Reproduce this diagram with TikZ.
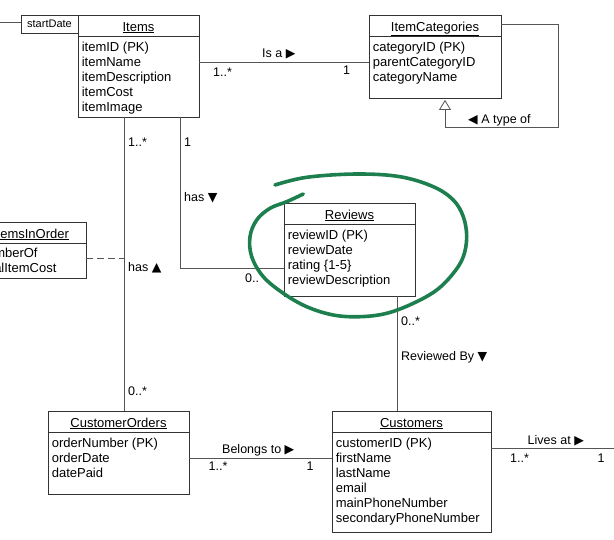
\documentclass[tikz,border=0pt]{standalone}
\usepackage{fontspec}
\setmainfont{Liberation Sans}
\newfontfamily\symf{DejaVu Sans}
\usetikzlibrary{arrows.meta,calc}
\definecolor{ln}{HTML}{555555}
\definecolor{bx}{HTML}{333333}
\definecolor{pen}{HTML}{1E7F4E}
\tikzset{
  cls/.style={draw=bx,line width=0.8pt,fill=white,inner sep=0pt},
  ctitle/.style={font=\fontsize{13}{15}\selectfont,inner sep=0pt,anchor=base},
  attrs/.style={font=\fontsize{13}{15}\selectfont,inner sep=0pt,anchor=north west,align=left,execute at begin node=\strut},
  link/.style={draw=ln,line width=0.8pt},
  lbl/.style={font=\fontsize{12.5}{15}\selectfont,inner sep=0pt,anchor=base west},
}
\begin{document}
\begin{tikzpicture}[x=1pt,y=-1pt]
  \clip (0,0) rectangle (614,539);

  % classes
  \node[cls,minimum width=121pt,minimum height=102pt] (items) at (138.5,66) {};
  \node[cls,minimum width=132pt,minimum height=83pt] (cats) at (435,56.5) {};
  \node[cls,minimum width=131pt,minimum height=93pt] (reviews) at (349.5,249.5) {};
  \node[cls,minimum width=141pt,minimum height=83pt] (orders) at (118.5,452.5) {};
  \node[cls,minimum width=159pt,minimum height=121pt] (customers) at (411.5,471.5) {};
  \node[cls,minimum width=110pt,minimum height=56pt] (inorder) at (31,250) {};
  \node[cls,minimum width=57pt,minimum height=18pt,font=\fontsize{11}{13}\selectfont] (sdate) at (49.5,24) {startDate};
  \foreach \c in {items,cats,reviews,orders,customers,inorder}
    \draw[bx,line width=0.8pt] ([yshift=-21.5pt]\c.north west) -- ([yshift=-21.5pt]\c.north east);

  \node[ctitle] (items-t) at ([yshift=-16.5pt]items.north) {\underline{Items}};
  \node[attrs] (items-a) at ([shift={(4pt,-27pt)}]items.north west) {itemID (PK)\\itemName\\itemDescription\\itemCost\\itemImage};
  \node[ctitle] (cats-t) at ([yshift=-16.5pt]cats.north) {\underline{ItemCategories}};
  \node[attrs] (cats-a) at ([shift={(4pt,-27pt)}]cats.north west) {categoryID (PK)\\parentCategoryID\\categoryName};
  \node[ctitle] (reviews-t) at ([yshift=-16.5pt]reviews.north) {\underline{Reviews}};
  \node[attrs] (reviews-a) at ([shift={(4pt,-27pt)}]reviews.north west) {reviewID (PK)\\reviewDate\\rating \{1-5\}\\reviewDescription};
  \node[ctitle] (orders-t) at ([yshift=-16.5pt]orders.north) {\underline{CustomerOrders}};
  \node[attrs] (orders-a) at ([shift={(4pt,-27pt)}]orders.north west) {orderNumber (PK)\\orderDate\\datePaid};
  \node[ctitle] (customers-t) at ([yshift=-16.5pt]customers.north) {\underline{Customers}};
  \node[attrs] (customers-a) at ([shift={(4pt,-27pt)}]customers.north west) {customerID (PK)\\firstName\\lastName\\email\\mainPhoneNumber\\secondaryPhoneNumber};
  \node[ctitle] (inorder-t) at ([yshift=-16.5pt]inorder.north) {\underline{ItemsInOrder}};
  \node[attrs] (inorder-a) at ([shift={(4pt,-26pt)}]inorder.north west) {numberOf\\totalItemCost};

  % connectors
  \coordinate (rimL) at (0,22.7);
  \coordinate (rimR) at (614,0);
  \coordinate (loopc) at (558,127);
  \draw[link] (rimL) -- (rimL -| sdate.west);
  \draw[link] ([yshift=4pt]items.east) coordinate (isa) -- (isa -| cats.west);
  \draw[link,-{Triangle[open,length=10pt,width=12pt]},shorten >=1.5pt] ([yshift=32.5pt]cats.east) -| (loopc) -| ([xshift=10pt]cats.south);
  \draw[link] ([xshift=-14pt]items.south) coordinate (hasA) -- (hasA |- orders.north);
  \draw[link,dash pattern=on 7pt off 4pt] ([yshift=-8pt]inorder.east) coordinate (dsh) -- (dsh -| hasA);
  \draw[link] ([xshift=42pt]items.south) |- ([yshift=-19pt]reviews.west);
  \draw[link] ([xshift=48pt]reviews.south) coordinate (rvb) -- (rvb |- customers.north);
  \draw[link] ([yshift=-6pt]orders.east) coordinate (blg) -- (blg -| customers.west);
  \draw[link] ([yshift=23pt]customers.east) coordinate (liv) -- (liv -| rimR);

  % labels
  \node[lbl] (l-isa) at (262,57.5) {Is a {\symf ▶}};
  \node[lbl] (m-isa1) at (213,76) {1..*};
  \node[lbl] (m-isa2) at (343,74.5) {1};
  \node[lbl] (l-type) at (468,123.5) {{\symf ◀} A type of};
  \node[lbl] (m-ord1) at (128,146) {1..*};
  \node[lbl] (l-hasA) at (128,271) {has {\symf ▲}};
  \node[lbl] (m-ord2) at (128,395) {0..*};
  \node[lbl] (m-rev1) at (184,146) {1};
  \node[lbl] (l-hasB) at (184,201) {has {\symf ▼}};
  \node[lbl] (m-rev2) at (245,282) {0..};
  \node[lbl] (m-cus1) at (401,325) {0..*};
  \node[lbl] (l-revby) at (401,360.5) {Reviewed By {\symf ▼}};
  \node[lbl] (l-blg) at (222,453.5) {Belongs to {\symf ▶}};
  \node[lbl] (m-blg1) at (208.5,470.5) {1..*};
  \node[lbl] (m-blg2) at (306.5,470.5) {1};
  \node[lbl] (l-liv) at (527.5,444.5) {Lives at {\symf ▶}};
  \node[lbl] (m-liv1) at (510,462) {1..*};
  \node[lbl] (m-liv2) at (597.5,462) {1};

  % hand-drawn mark
  \draw[pen,line width=3.6pt,line cap=round,line join=round] plot[smooth,tension=0.6] coordinates {
    (275,185) (306.7,177.3) (356.7,174) (400,176.7) (433.3,186.7) (453.3,200)
    (463.3,216.7) (466.7,236.7) (463.3,256.7) (453.3,273.3) (436.7,290) (413.3,303.3)
    (386.7,313.3) (360,316.7) (333.3,315) (306.7,306.7) (283.3,293.3) (263.3,276.7)
    (251.7,256.7) (250,236.7) (256.7,220) (270,208.3) (286.7,201.7) (303.3,194)};
\end{tikzpicture}
\end{document}
